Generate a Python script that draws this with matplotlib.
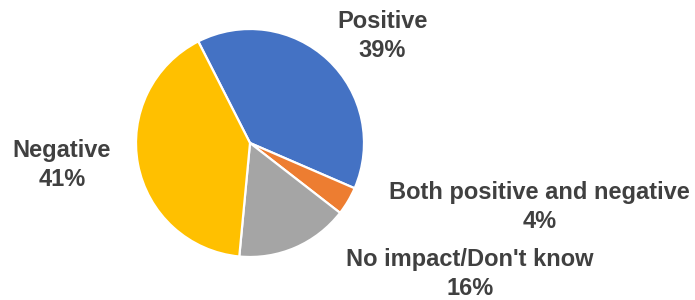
import matplotlib.pyplot as plt

# Data
labels = ["Positive", "Both positive and negative", "No impact/Don't know", "Negative"]
values = [39, 4, 16, 41]
colors = ["#4472C4", "#ED7D31", "#A5A5A5", "#FFC000"]

# Label positions (in pie-radius units, relative to the centre)
label_pos = [(1.16, 0.94), (2.54, -0.56), (1.93, -1.15), (-1.65, -0.19)]

plt.rcParams['font.family'] = ['Liberation Sans', 'DejaVu Sans']

fig = plt.figure(figsize=(6.95, 3.0), dpi=100)
# pie centre at ~(250,143) px, radius ~114 px
cx, cy, r = 250, 143, 114
ax = fig.add_axes([(cx - r) / 695, (300 - cy - r) / 300, 2 * r / 695, 2 * r / 300])

ax.pie(values, colors=colors, startangle=117, counterclock=False, radius=1,
       wedgeprops=dict(edgecolor="white", linewidth=1.6))
ax.set_xlim(-1, 1)
ax.set_ylim(-1, 1)
ax.set_aspect("equal")
ax.axis("off")

for lab, val, (x, y) in zip(labels, values, label_pos):
    ax.text(x, y, f"{lab}\n{val}%", ha="center", va="center", fontsize=17,
            fontweight="bold", color="#404040", linespacing=1.33, clip_on=False)

fig.savefig("out.png", dpi=100)
